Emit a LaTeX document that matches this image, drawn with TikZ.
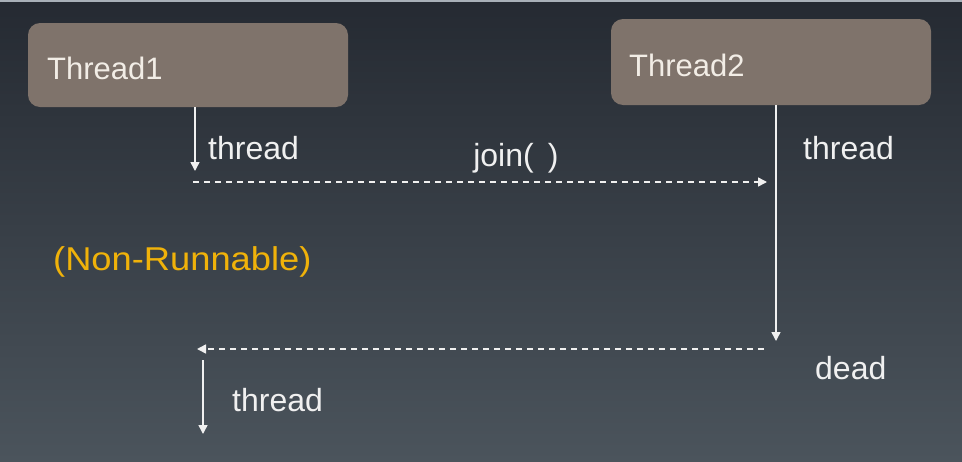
\documentclass[tikz,border=0pt]{standalone}
\usepackage{fontspec}
\setmainfont{Liberation Sans}
\newfontfamily\widefont[FakeStretch=1.1]{Liberation Sans}
\usetikzlibrary{arrows.meta}
\definecolor{bgtop}{HTML}{252A32}
\definecolor{bgbot}{HTML}{4B545C}
\definecolor{boxfill}{HTML}{7F736B}
\definecolor{boxtext}{HTML}{F2EDE6}
\definecolor{linecol}{HTML}{F0F0F0}
\definecolor{orangetext}{HTML}{F0B20A}
\definecolor{topline}{HTML}{A8B0B8}
\tikzset{
  threadbox/.style={fill=boxfill, rounded corners=12pt, draw=none},
  boxlabel/.style={text=boxtext, font=\fontsize{31}{36}\selectfont, anchor=west, inner sep=0pt},
  lbl/.style={text=linecol, font=\fontsize{32}{36}\selectfont, inner sep=0pt},
  solidarrow/.style={draw=linecol, line width=1.5pt, -{Triangle[width=9pt,length=9pt]}},
  dasharrow/.style={draw=linecol, line width=1.5pt, dash pattern=on 6pt off 5pt, -{Triangle[width=9pt,length=9pt]}},
}
\begin{document}
\begin{tikzpicture}[x=1pt,y=-1pt]
\useasboundingbox (0,0) rectangle (962,461);
\shade[top color=bgtop, bottom color=bgbot] (0,0) rectangle (962,461);
\fill[topline] (0,0) rectangle (962,2);
% boxes
\path[threadbox] (28,23) rectangle (348,107);
\path[threadbox] (611,19) rectangle (931,105);
\node[boxlabel] (t1) at (47,68) {Thread1};
\node[boxlabel] (t2) at (629,65) {Thread2};
% coordinates
\coordinate (a1s) at (195,107);
\coordinate (a1e) at (195,171);
\coordinate (j1s) at (193,182);
\coordinate (j1e) at (767,182);
\coordinate (a2s) at (776,105);
\coordinate (a2e) at (776,341);
\coordinate (d1s) at (764,349);
\coordinate (d1e) at (197,349);
\coordinate (a3s) at (203,360);
\coordinate (a3e) at (203,434);
% arrows
\draw[solidarrow] (a1s) -- (a1e);
\draw[dasharrow] (j1s) -- (j1e);
\draw[solidarrow] (a2s) -- (a2e);
\draw[dasharrow] (d1s) -- (d1e);
\draw[solidarrow] (a3s) -- (a3e);
% labels
\node[lbl, anchor=west] (l1) at (208,148) {thread};
\node[lbl] (lj) at (516,158) {join(\,\ )};
\node[lbl, anchor=west] (l2) at (803,148) {thread};
\node[lbl, anchor=west] (ld) at (815,368) {dead};
\node[lbl, anchor=west] (l3) at (232,400) {thread};
\node[text=orangetext, font=\widefont\fontsize{33}{36}\selectfont, anchor=west, inner sep=0pt] (nr) at (53,262) {(Non-Runnable)};
\end{tikzpicture}
\end{document}
